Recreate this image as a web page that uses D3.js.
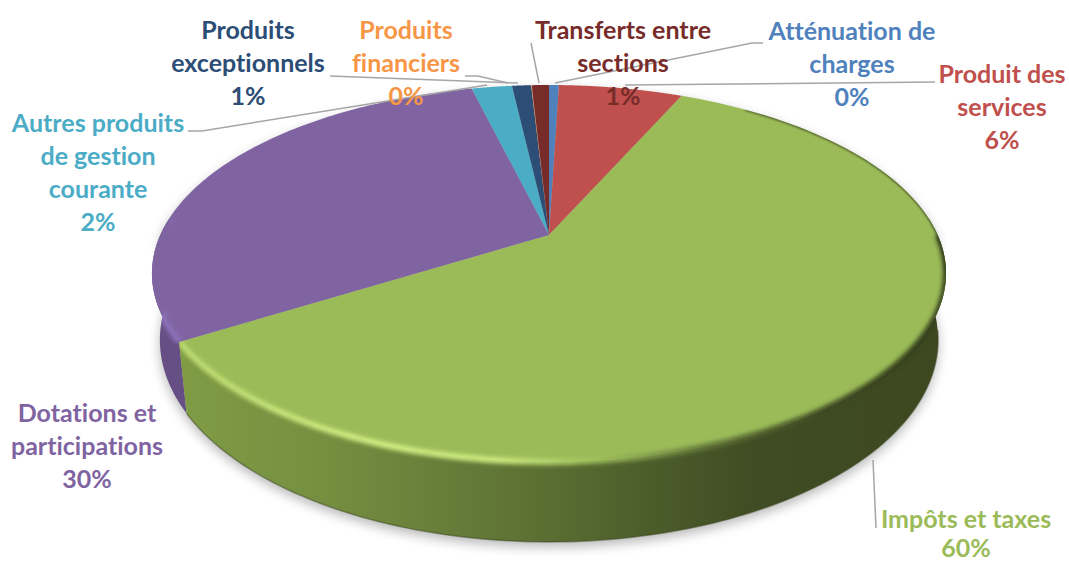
<!DOCTYPE html>
<html>
<head>
<meta charset="utf-8">
<script src="https://cdn.jsdelivr.net/npm/d3@7"></script>
<style>
  html, body { margin: 0; padding: 0; background: #fff; }
  text { font-family: Lato, sans-serif; font-weight: 700; font-size: 25px; font-variant-ligatures: none; }
</style>
</head>
<body>
<div id="chart"></div>
<script>
const categories = ['Atténuation de charges', 'Produit des services', 'Impôts et taxes', 'Dotations et participations',
  'Autres produits de gestion courante', 'Produits exceptionnels', 'Produits financiers', 'Transferts entre sections'];
const values = [0.49, 6.15, 59.5, 30.03, 2.0, 0.95, 0.03, 0.85];
const colors = ['#4f81bd', '#c0504d', '#9bbb59', '#8064a2', '#4bacc6', '#2c4d75', '#f79646', '#772c2a'];
const labelLines = [['Atténuation de', 'charges'], ['Produit des', 'services'], ['Impôts et taxes'], ['Dotations et', 'participations'],
  ['Autres produits', 'de gestion', 'courante'], ['Produits', 'exceptionnels'], ['Produits', 'financiers'], ['Transferts entre', 'sections']];
const labelCenters = [[852, 39.5], [1002, 82.5], [966, 527.5], [87, 421.5], [98, 131.5], [248, 38.5], [406, 38.5], [623, 38.5]];
const lineGaps = [33, 33, 29, 33, 33, 33, 33, 33];
const leaders = [
  [[763, 43], [752, 43], [555, 83]],
  [[935, 82], [625, 85]],
  [[873, 460], [876, 528]],
  [],
  [[188, 131], [202, 131], [487, 85]],
  [[330, 76], [518, 83]],
  [[465, 76], [478, 76], [508, 83]],
  [[531, 43], [539, 83]]
];

const width = 1069, height = 561;
const cx = 549, cy = 235;
const rx = 388.7, ry = 180.6, persp = 0.204; // 透视参数
const depth = 63.7, shrink = 0.98;

// 把圆上的角度投影到顶面
const topPoint = a => {
  const w = 1 + persp * Math.cos(a);
  return [cx + rx * Math.sin(a) / w, cy - ry * Math.cos(a) / w];
};
// 底面
const bottomPoint = a => {
  const w = 1 + persp * Math.cos(a);
  return [cx + shrink * rx * Math.sin(a) / w, cy - ry * Math.cos(a) / w + depth / w];
};
const line = d3.line();
const sample = (a0, a1, f) => d3.range(0, 121).map(i => f(a0 + (a1 - a0) * i / 120));

const svg = d3.select('#chart').append('svg').attr('width', width).attr('height', height);
const defs = svg.append('defs');

defs.append('filter').attr('id', 'soft').attr('x', '-10%').attr('y', '-10%').attr('width', '120%').attr('height', '130%')
  .append('feGaussianBlur').attr('stdDeviation', 6);
defs.append('filter').attr('id', 'bevel').attr('filterUnits', 'userSpaceOnUse')
  .attr('x', 0).attr('y', 0).attr('width', width).attr('height', height)
  .append('feGaussianBlur').attr('stdDeviation', 2.2);
defs.append('filter').attr('id', 'thin').attr('filterUnits', 'userSpaceOnUse')
  .attr('x', 0).attr('y', 0).attr('width', width).attr('height', height)
  .append('feGaussianBlur').attr('stdDeviation', 0.9);

const wallGrad = defs.append('linearGradient').attr('id', 'wallGreen')
  .attr('gradientUnits', 'userSpaceOnUse').attr('x1', 180).attr('x2', 946).attr('y1', 0).attr('y2', 0);
[[0, '#7f9c45'], [0.2, '#748e40'], [0.45, '#5d7234'], [0.62, '#4b5c2a'], [0.75, '#404c23'], [1, '#3d4821']].forEach(d => {
  wallGrad.append('stop').attr('offset', d[0]).attr('stop-color', d[1]);
});
const rimGrad = defs.append('linearGradient').attr('id', 'rimGreen')
  .attr('gradientUnits', 'userSpaceOnUse').attr('x1', 180).attr('x2', 946).attr('y1', 0).attr('y2', 0);
[[0, '#bcdc70'], [0.25, '#d2f083'], [0.42, '#cdec80'], [0.55, '#9bbb59'], [0.68, '#64793a'], [0.85, '#3d4821'], [1, '#333d1b']].forEach(d => {
  rimGrad.append('stop').attr('offset', d[0]).attr('stop-color', d[1]);
});

const slices = d3.pie().sort(null).value(d => d)(values);
const green = slices[2], purple = slices[3];

// 阴影
const outline = sample(Math.PI / 2, Math.PI * 1.5, bottomPoint);
svg.append('path')
  .attr('d', line(outline.concat(sample(Math.PI * 1.5, Math.PI * 2.5, topPoint))) + 'Z')
  .attr('transform', 'translate(0,5)')
  .attr('fill', '#000').attr('opacity', 0.28).attr('filter', 'url(#soft)');

// 侧面
const wall = (a0, a1) => line(sample(a0, a1, topPoint).concat(sample(a1, a0, bottomPoint))) + 'Z';
svg.append('path').attr('d', wall(purple.startAngle, Math.PI * 1.53)).attr('fill', '#664f84');
svg.append('path').attr('d', wall(Math.PI * 0.47, green.endAngle)).attr('fill', 'url(#wallGreen)');
// 底边暗线
svg.append('path').attr('d', line(sample(Math.PI * 0.55, green.endAngle, bottomPoint)))
  .attr('fill', 'none').attr('stroke', '#3d4821').attr('stroke-width', 1.5).attr('opacity', 0.5);

// 顶面扇形
const sliceG = svg.append('g');
slices.forEach((s, i) => {
  sliceG.append('path')
    .attr('d', line([[cx, cy]].concat(sample(s.startAngle, s.endAngle, topPoint))) + 'Z')
    .attr('fill', colors[i]);
});

// 边缘高光
const rimClip = defs.append('clipPath').attr('id', 'rimClip');
rimClip.append('path').attr('d', wall(Math.PI * 0.45, green.endAngle));
rimClip.append('path').attr('d', line([[cx, cy]].concat(sample(green.startAngle, green.endAngle, topPoint))) + 'Z');
const rimClipP = defs.append('clipPath').attr('id', 'rimClipP');
rimClipP.append('path').attr('d', wall(purple.startAngle, Math.PI * 1.53));
rimClipP.append('path').attr('d', line([[cx, cy]].concat(sample(purple.startAngle, purple.endAngle, topPoint))) + 'Z');
const rimG = svg.append('g').attr('clip-path', 'url(#rimClip)');
rimG.append('path')
  .attr('d', line(sample(Math.PI * 0.2, Math.PI * 0.56, topPoint)))
  .attr('fill', 'none').attr('stroke', '#3d4821').attr('stroke-width', 2).attr('filter', 'url(#thin)');
rimG.append('path')
  .attr('d', line(sample(Math.PI * 0.5, green.endAngle, topPoint)))
  .attr('fill', 'none').attr('stroke', 'url(#rimGreen)').attr('stroke-width', 6).attr('filter', 'url(#bevel)');
svg.append('g').attr('clip-path', 'url(#rimClipP)').append('path')
  .attr('d', line(sample(purple.startAngle, Math.PI * 1.53, topPoint)))
  .attr('fill', 'none').attr('stroke', '#8d6fbb').attr('stroke-width', 6).attr('filter', 'url(#bevel)');

// 引导线
svg.append('g').selectAll('path').data(leaders.filter(d => d.length)).join('path')
  .attr('d', d => line(d)).attr('fill', 'none').attr('stroke', '#a6a6a6').attr('stroke-width', 1.5);

// 标签
const labels = svg.append('g').attr('text-anchor', 'middle');
const pct = d3.format('.0%');
const total = d3.sum(values);
categories.forEach((c, i) => {
  const t = labels.append('text').attr('fill', colors[i]);
  const lines = labelLines[i].concat(pct(values[i] / total));
  lines.forEach((l, j) => {
    t.append('tspan').attr('x', labelCenters[i][0]).attr('y', labelCenters[i][1] + j * lineGaps[i]).text(l);
  });
});
</script>
</body>
</html>
